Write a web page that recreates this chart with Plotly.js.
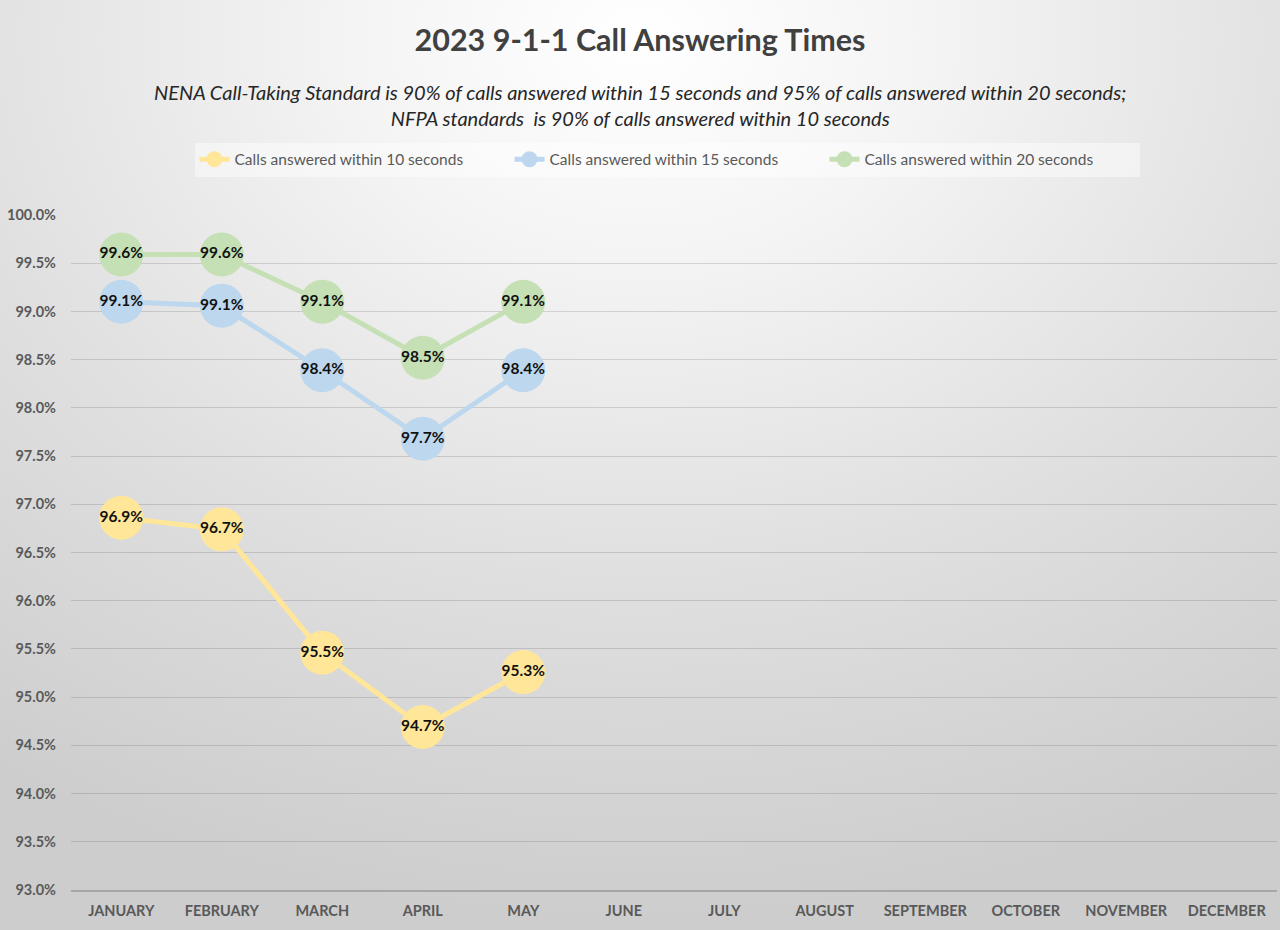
<!DOCTYPE html>
<html>
<head>
<meta charset="utf-8">
<script src="https://cdn.plot.ly/plotly-3.0.1.min.js"></script>
<style>
  html, body { margin: 0; padding: 0; }
  #chart {
    width: 1280px; height: 930px;
    background: radial-gradient(ellipse 90% 95% at 50% 4%, #ffffff 0%, #f4f4f4 25%, #e0e0e0 60%, #cdcdcd 100%);
  }
</style>
</head>
<body>
<div id="chart"></div>
<script>
const months = ["JANUARY","FEBRUARY","MARCH","APRIL","MAY","JUNE","JULY","AUGUST","SEPTEMBER","OCTOBER","NOVEMBER","DECEMBER"];
const within10 = [96.86, 96.74, 95.46, 94.69, 95.26, null, null, null, null, null, null, null];
const within15 = [99.10, 99.06, 98.39, 97.68, 98.39, null, null, null, null, null, null, null];
const within20 = [99.59, 99.59, 99.10, 98.52, 99.10, null, null, null, null, null, null, null];
const seriesNames = ["Calls answered within 10 seconds", "Calls answered within 15 seconds", "Calls answered within 20 seconds"];
const seriesColors = ["#FFE699", "#BDD7EE", "#C5E0B4"];
const yTicks = [93, 93.5, 94, 94.5, 95, 95.5, 96, 96.5, 97, 97.5, 98, 98.5, 99, 99.5, 100];

const font = "Lato, 'Open Sans', sans-serif";
const allSeries = [within10, within15, within20];
const traces = allSeries.map((vals, i) => ({
  type: "scatter",
  mode: "lines+markers+text",
  name: seriesNames[i],
  x: months,
  y: vals,
  line: { color: seriesColors[i], width: 5 },
  marker: { color: seriesColors[i], size: 44 },
  texttemplate: "%{y:.1f}%",
  textposition: "middle center",
  textfont: { family: font, size: 15.5, color: "#111111", weight: "bold" },
  cliponaxis: false,
  hoverinfo: "skip"
}));

const pageCenter = (640 - 71) / 1206;

const layout = {
  width: 1280, height: 930,
  paper_bgcolor: "rgba(0,0,0,0)",
  plot_bgcolor: "rgba(0,0,0,0)",
  margin: { l: 71, r: 3, t: 215, b: 40 },
  font: { family: font, color: "#595959" },
  title: {
    text: "<b>2023 9-1-1 Call Answering Times</b>",
    font: { family: font, size: 30.5, color: "#404040" },
    x: 0.5, xanchor: "center", y: 0.957, yanchor: "middle"
  },
  annotations: [{
    xref: "paper", yref: "paper", x: pageCenter, y: 1.163, xanchor: "center", yanchor: "middle",
    text: "<i>NENA Call-Taking Standard is 90% of calls answered within 15 seconds and 95% of calls answered within 20 seconds;<br>NFPA standards  is 90% of calls answered within 10 seconds</i>",
    showarrow: false,
    font: { family: font, size: 20, color: "#262626" },
    align: "center"
  }],
  showlegend: true,
  legend: {
    orientation: "h",
    x: pageCenter + 0.0224, xanchor: "center",
    y: 1.082, yanchor: "middle",
    bgcolor: "rgba(255,255,255,0.45)",
    font: { family: font, size: 15.5, color: "#595959" },
    entrywidth: 270, entrywidthmode: "pixels",
    itemsizing: "trace"
  },
  xaxis: {
    type: "category",
    categoryarray: months,
    range: [-0.5, 11.5],
    showgrid: false,
    showline: true, linecolor: "#a6a6a6", linewidth: 1.5,
    ticks: "",
    ticklabelstandoff: 7,
    tickfont: { family: font, size: 14.5, color: "#595959", weight: "bold" },
    fixedrange: true
  },
  yaxis: {
    range: [93, 100],
    tickvals: yTicks,
    ticktext: yTicks.map(v => v.toFixed(1) + "%"),
    showgrid: true, gridcolor: "rgba(0,0,0,0.13)", gridwidth: 1,
    zeroline: false,
    showline: false,
    ticks: "",
    ticklabelstandoff: 14,
    tickfont: { family: font, size: 14.5, color: "#595959", weight: "bold" },
    fixedrange: true
  }
};

Plotly.newPlot("chart", traces, layout, { displayModeBar: false, staticPlot: true });
</script>
</body>
</html>
